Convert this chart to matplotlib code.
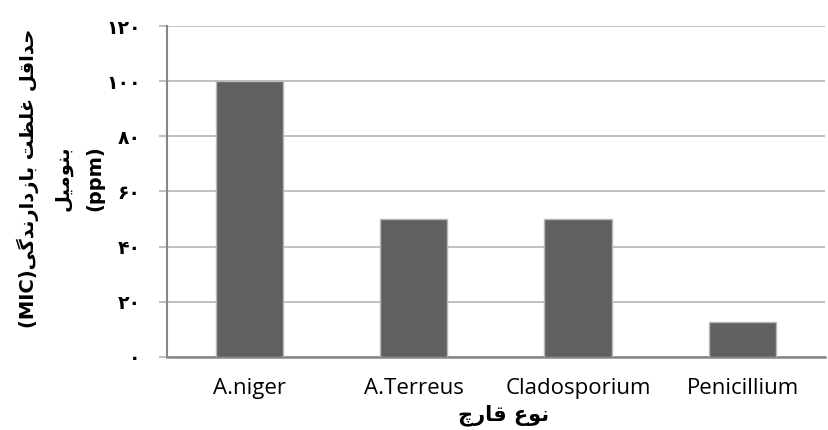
import matplotlib
matplotlib.use("Agg")
import matplotlib.pyplot as plt
import numpy as np

# داده ها
fungi = ["A.niger", "A.Terreus", "Cladosporium", "Penicillium"]
mic = [100, 50, 50, 12.5]
yticks = [0, 20, 40, 60, 80, 100, 120]
ytick_labels = ["۰", "۲۰", "۴۰", "۶۰", "۸۰", "۱۰۰", "۱۲۰"]

# شکل حروف عربی/فارسی (جدا، پایانی، آغازی، میانی)
FORMS = {
    "ا": ("\uFE8D", "\uFE8E", None, None),
    "ب": ("\uFE8F", "\uFE90", "\uFE91", "\uFE92"),
    "ت": ("\uFE95", "\uFE96", "\uFE97", "\uFE98"),
    "ح": ("\uFEA1", "\uFEA2", "\uFEA3", "\uFEA4"),
    "د": ("\uFEA9", "\uFEAA", None, None),
    "ر": ("\uFEAD", "\uFEAE", None, None),
    "ز": ("\uFEAF", "\uFEB0", None, None),
    "ظ": ("\uFEC5", "\uFEC6", "\uFEC7", "\uFEC8"),
    "ع": ("\uFEC9", "\uFECA", "\uFECB", "\uFECC"),
    "غ": ("\uFECD", "\uFECE", "\uFECF", "\uFED0"),
    "ق": ("\uFED5", "\uFED6", "\uFED7", "\uFED8"),
    "ل": ("\uFEDD", "\uFEDE", "\uFEDF", "\uFEE0"),
    "م": ("\uFEE1", "\uFEE2", "\uFEE3", "\uFEE4"),
    "ن": ("\uFEE5", "\uFEE6", "\uFEE7", "\uFEE8"),
    "و": ("\uFEED", "\uFEEE", None, None),
    "ی": ("\uFBFC", "\uFBFD", "\uFBFE", "\uFBFF"),
    "گ": ("\uFB92", "\uFB93", "\uFB94", "\uFB95"),
    "چ": ("\uFB7A", "\uFB7B", "\uFB7C", "\uFB7D"),
}


def shape(text):
    out = []
    for i, ch in enumerate(text):
        if ch not in FORMS:
            out.append(ch)
            continue
        prev = text[i - 1] if i > 0 else ""
        nxt = text[i + 1] if i + 1 < len(text) else ""
        joins_prev = prev in FORMS and FORMS[prev][2] is not None
        joins_next = nxt in FORMS and FORMS[ch][2] is not None
        iso, fin, ini, med = FORMS[ch]
        if joins_prev and joins_next:
            out.append(med)
        elif joins_prev:
            out.append(fin)
        elif joins_next:
            out.append(ini)
        else:
            out.append(iso)
    return "".join(out[::-1])


ylabel = "(MIC)" + shape("حداقل غلظت بازدارندگی") + "\n" + shape("بنومیل") + "\n(ppm)"
xlabel = shape("نوع قارچ")

fig = plt.figure(figsize=(8.29, 4.30), dpi=100)
ax = fig.add_axes([0.2015, 0.170, 0.7935, 0.7695])

x = np.arange(len(fungi))
ax.bar(x, mic, width=0.41, color="#606060", edgecolor="#b8b8b8", linewidth=1, zorder=3)

ax.set_xlim(-0.5, len(fungi) - 0.5)
ax.set_ylim(0, 120)
ax.set_yticks(yticks)
ax.set_yticklabels(ytick_labels, family="DejaVu Sans", fontweight="bold", fontsize=13.5)
ax.set_xticks(x)
ax.set_xticklabels(fungi, family="Open Sans", fontsize=16)

ax.grid(axis="y", color="#b4b4b4", linewidth=1.2, zorder=0)
for s in ["top", "right"]:
    ax.spines[s].set_visible(False)
ax.spines["left"].set_color("#868686")
ax.spines["left"].set_linewidth(1.5)
ax.spines["bottom"].set_color("#868686")
ax.spines["bottom"].set_linewidth(1.8)
ax.tick_params(axis="y", length=6, color="#b4b4b4", width=1.2, pad=13)
ax.tick_params(axis="x", length=0, pad=15)

fig.text(61 / 829, 1 - 178 / 430, ylabel, family="DejaVu Sans", fontweight="bold", fontsize=14,
         rotation=90, ha="center", va="center", multialignment="center", linespacing=1.9)
fig.text(504 / 829, 1 - 415 / 430, xlabel, family="DejaVu Sans", fontweight="bold", fontsize=15,
         ha="center", va="center")

fig.savefig("out.png", dpi=100)
